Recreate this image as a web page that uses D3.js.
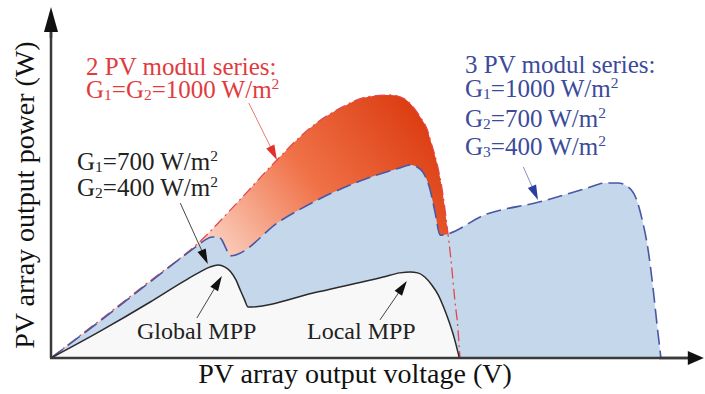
<!DOCTYPE html>
<meta charset="utf-8">
<script src="https://d3js.org/d3.v7.min.js"></script>
<style>
  body { margin: 0; background: #fff; }
  text { font-family: "Liberation Serif", "Times New Roman", serif; }
</style>
<div id="my_dataviz"></div>
<script>

// P-V curves (voltage in V, power in W, arbitrary units)
// 2 PV modules in series, G1=G2=1000 W/m2
var redV = [0, 7.7, 15.5, 23.0, 29.5, 35.3, 40.5, 45.2, 49.4, 53.0, 55.3, 56.6, 57.7, 58.8, 59.5, 60.3, 61.3, 61.9, 62.5, 63.1, 63.6, 63.9];
var redP = [0, 11.9, 24.1, 35.9, 49.4, 61.9, 71.9, 78.1, 81.6, 82.2, 80.9, 78.4, 75.3, 71.3, 66.6, 60.9, 50.3, 40.9, 30.6, 18.1, 8.8, 0];

// 3 PV modules in series, G1=1000, G2=700, G3=400
var blueV = [0, 7.7, 15.5, 23.0, 24.1, 25.2, 26.1, 26.7, 27.3, 28.0, 35.8, 43.6, 51.4, 54.5, 56.1, 57.2, 58.1, 59.2, 60.0, 60.8, 68.1, 76.4, 83.8, 86.6, 88.6, 90.2, 91.4, 92.3, 93.3, 94.1, 94.7, 95.3];
var blueP = [0, 11.6, 23.8, 35.3, 36.9, 37.8, 37.8, 36.9, 34.4, 31.9, 42.8, 51.3, 57.5, 59.4, 60.3, 59.7, 58.1, 52.8, 45.6, 38.4, 45.0, 48.8, 53.1, 54.7, 54.7, 53.4, 50.0, 43.8, 33.8, 21.3, 10.3, 0];

// 2 PV modules in series, G1=700, G2=400
var blackV = [0, 7.7, 15.5, 20.6, 23.3, 24.8, 26.1, 27.2, 28.1, 28.9, 29.5, 30.2, 30.8, 41.6, 51.9, 54.5, 56.1, 57.3, 58.4, 59.5, 60.5, 61.4, 62.2, 63.0, 63.8];
var blackP = [0, 8.4, 17.5, 23.8, 26.9, 28.4, 29.1, 28.4, 26.9, 24.4, 21.6, 18.4, 15.9, 20.6, 25.3, 26.6, 26.9, 26.6, 25.3, 22.8, 19.7, 15.6, 11.3, 6.3, 0];

// annotation texts  (_n = subscript, ^n = superscript)
var redLabel = ["2 PV modul series:", "G_1=G_2=1000 W/m^2"];
var blueLabel = ["3 PV modul series:", "G_1=1000 W/m^2", "G_2=700 W/m^2", "G_3=400 W/m^2"];
var blackLabel = ["G_1=700 W/m^2", "G_2=400 W/m^2"];
var mppLabels = ["Global MPP", "Local MPP"];
var xTitle = "PV array output voltage (V)";
var yTitle = "PV array output power (W)";

// arrows: [fromV, fromP, toV, toP]
var redArrow = [30.9, 79.7, 35.3, 61.9];
var blueArrow = [73.8, 59.7, 76.1, 49.4];
var blackArrows = [
    [20.2, 48.4, 24.5, 29.4],
    [22.8, 12.5, 26.7, 25.6],
    [51.4, 11.9, 55.6, 24.1]
];

var W = 705, H = 394;

var svg = d3.select("#my_dataviz")
    .append("svg")
    .attr("width", W)
    .attr("height", H);

var x = d3.scaleLinear().domain([0, 100]).range([51, 691]);
var y = d3.scaleLinear().domain([0, 100]).range([358, 38]);

function pts(v, p) { return v.map(function(d, i) { return [d, p[i]]; }); }
var red = pts(redV, redP), blue = pts(blueV, blueP), black = pts(blackV, blackP);

var area = d3.area()
    .x(function(d) { return x(d[0]); })
    .y0(y(0))
    .y1(function(d) { return y(d[1]); })
    .curve(d3.curveMonotoneX);
var line = d3.line()
    .x(function(d) { return x(d[0]); })
    .y(function(d) { return y(d[1]); })
    .curve(d3.curveMonotoneX);

// gradient for the red area
var grad = svg.append("defs").append("linearGradient")
    .attr("id", "redgrad")
    .attr("gradientUnits", "userSpaceOnUse")
    .attr("x1", x(54)).attr("y1", y(83))
    .attr("x2", x(24)).attr("y2", y(36));
grad.append("stop").attr("offset", 0).attr("stop-color", "#dd3f14");
grad.append("stop").attr("offset", 0.5).attr("stop-color", "#f07248");
grad.append("stop").attr("offset", 1).attr("stop-color", "#fbd3c4");

svg.append("path").datum(red).attr("d", area).attr("fill", "url(#redgrad)");
svg.append("path").datum(blue).attr("d", area).attr("fill", "#c5d7eb");
svg.append("path").datum(black).attr("d", area).attr("fill", "#f8f8f8");

svg.append("path").datum(red).attr("d", line)
    .attr("fill", "none").attr("stroke", "#e4474a").attr("stroke-width", 1.3)
    .attr("stroke-dasharray", "11,4,2,4");
svg.append("path").datum(blue).attr("d", line)
    .attr("fill", "none").attr("stroke", "#4a57a4").attr("stroke-width", 1.6)
    .attr("stroke-dasharray", "15,6");
svg.append("path").datum(black).attr("d", line)
    .attr("fill", "none").attr("stroke", "#2a2a2a").attr("stroke-width", 1.5);

// arrow helper (pixel space)
function arrow(x1, y1, x2, y2, lineColor, headColor, len, half, lw) {
    var dx = x2 - x1, dy = y2 - y1, l = Math.sqrt(dx * dx + dy * dy);
    var ux = dx / l, uy = dy / l, bx = x2 - ux * len, by = y2 - uy * len;
    svg.append("line")
        .attr("x1", x1).attr("y1", y1).attr("x2", bx + ux * 2).attr("y2", by + uy * 2)
        .attr("stroke", lineColor).attr("stroke-width", lw);
    svg.append("polygon")
        .attr("points", [[x2, y2], [bx - uy * half, by + ux * half], [bx + uy * half, by - ux * half]].join(" "))
        .attr("fill", headColor);
}
function dataArrow(a, lc, hc) {
    arrow(x(a[0]), y(a[1]), x(a[2]), y(a[3]), lc, hc, 15, 4.5, 1);
}

// axes
svg.append("line").attr("x1", x(0)).attr("y1", y(0)).attr("x2", x(0)).attr("y2", y(108))
    .attr("stroke", "#3a3a3a").attr("stroke-width", 2.5);
svg.append("line").attr("x1", x(0) - 1).attr("y1", y(0)).attr("x2", x(100.5)).attr("y2", y(0))
    .attr("stroke", "#3a3a3a").attr("stroke-width", 2.5);
arrow(x(0), y(100), x(0), y(109.7), "#3a3a3a", "#111", 25, 7, 2.5);
arrow(x(95), y(0), x(102), y(0), "#3a3a3a", "#111", 16, 7, 2.5);

dataArrow(redArrow, "#e77a72", "#e2302a");
dataArrow(blueArrow, "#8590c4", "#2b3d9e");
blackArrows.forEach(function(a) { dataArrow(a, "#444", "#111"); });

// rich text helper
function rich(px, py, str, size, color) {
    var t = svg.append("text").attr("x", px).attr("y", py)
        .attr("font-size", size).attr("fill", color);
    var cur = 0;
    str.split(/(_\d|\^\d)/).filter(function(s) { return s.length; }).forEach(function(s) {
        var target = 0, txt = s, fs = size;
        if (s[0] === "_") { target = 1.5; txt = s.slice(1); fs = size * 0.62; }
        else if (s[0] === "^") { target = -size * 0.36; txt = s.slice(1); fs = size * 0.62; }
        t.append("tspan").attr("dy", target - cur).attr("font-size", fs).text(txt);
        cur = target;
    });
    return t;
}

var redY = [75, 98];
redLabel.forEach(function(s, i) { rich(86, redY[i], s, 25, "#e23b3e"); });
var blueY = [73, 97, 127, 155];
blueLabel.forEach(function(s, i) { rich(465, blueY[i], s, 25, "#3b4a9b"); });
var blackY = [170, 196];
blackLabel.forEach(function(s, i) { rich(77, blackY[i], s, 25, "#222"); });
rich(137, 339, mppLabels[0], 24, "#222");
rich(307, 339, mppLabels[1], 24, "#222");

svg.append("text").attr("x", 355).attr("y", 383)
    .attr("text-anchor", "middle").attr("font-size", 28).attr("fill", "#111")
    .text(xTitle);
svg.append("text")
    .attr("transform", "translate(34,195) rotate(-90)")
    .attr("text-anchor", "middle").attr("font-size", 28).attr("fill", "#111")
    .text(yTitle);

</script>
